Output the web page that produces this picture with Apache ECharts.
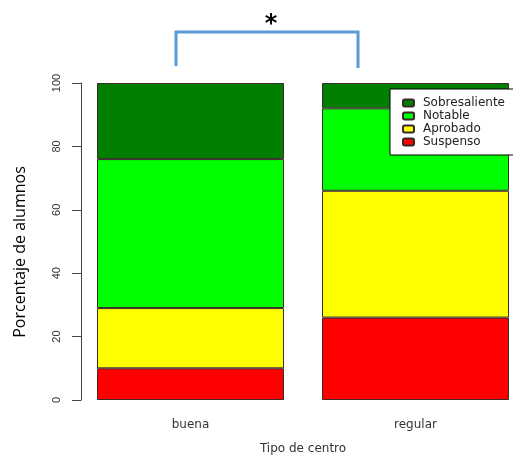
<!DOCTYPE html>
<html>
<head>
<meta charset="utf-8">
<script src="https://cdn.jsdelivr.net/npm/echarts@6/dist/echarts.min.js"></script>
<style>html,body{margin:0;padding:0;background:#fff}#c{width:513px;height:455px}</style>
</head>
<body>
<div id="c"></div>
<script>
var categories = ['buena', 'regular'];
var suspenso = [10, 26];
var aprobado = [19, 40];
var notable = [47, 26];
var sobresaliente = [24, 8];
var yTicks = [0, 20, 40, 60, 80, 100];

var chart = echarts.init(document.getElementById('c'));
var border = {borderColor: '#3a2a2a', borderWidth: 1};
function s(name, data, color) {
  return {name: name, type: 'bar', stack: 'total', data: data, barWidth: 187,
    itemStyle: Object.assign({color: color}, border), emphasis: {disabled: true}};
}
var lab = 'DejaVu Sans, Liberation Sans, sans-serif';
chart.setOption({
  animation: false,
  textStyle: {fontFamily: lab},
  grid: {left: 78, top: 83, bottom: 55, width: 450, outerBoundsMode: 'none', containLabel: false},
  legend: {
    orient: 'vertical', left: 390, top: 89,
    data: ['Sobresaliente', 'Notable', 'Aprobado', 'Suspenso'],
    backgroundColor: '#fff', borderColor: '#000', borderWidth: 1,
    padding: [8, 40, 7, 12], itemWidth: 11, itemHeight: 7, itemGap: 1,
    textStyle: {fontSize: 12, color: '#222', fontFamily: lab, padding: [0, 0, 0, 4], lineHeight: 12},
    selectedMode: false
  },
  xAxis: {
    type: 'category', data: categories,
    axisLine: {show: false}, axisTick: {show: false},
    axisLabel: {fontSize: 12, color: '#333', margin: 19, fontFamily: lab},
    name: 'Tipo de centro', nameLocation: 'middle', nameGap: 43,
    nameTextStyle: {fontSize: 12, color: '#333', fontFamily: lab}
  },
  yAxis: {
    type: 'value', min: 0, max: 100, interval: 20, offset: -3,
    splitLine: {show: false},
    axisLine: {show: true, lineStyle: {color: '#444'}},
    axisTick: {show: true, length: 9, lineStyle: {color: '#444'}},
    axisLabel: {rotate: 90, fontSize: 11, color: '#333', margin: 19,
      fontFamily: 'Liberation Sans, Arial, sans-serif',
      formatter: function (v) { return yTicks.indexOf(v) >= 0 ? String(v) : ''; }}
  },
  series: [
    s('Suspenso', suspenso, '#ff0000'),
    s('Aprobado', aprobado, '#ffff00'),
    s('Notable', notable, '#00ff00'),
    s('Sobresaliente', sobresaliente, '#007f00')
  ],
  graphic: [
    {type: 'text', x: 20, y: 252, rotation: Math.PI / 2,
      style: {text: 'Porcentaje de alumnos', fill: '#000', align: 'center', verticalAlign: 'middle',
        font: '16px "Open Sans", "Liberation Sans", sans-serif'}},
    {type: 'polyline', shape: {points: [[176, 66], [176, 32], [358, 32], [358, 68]]},
      style: {stroke: '#5b9bd5', lineWidth: 3, fill: null}},
    {type: 'text', x: 271, y: 25, style: {text: '*', fill: '#000',
      align: 'center', verticalAlign: 'middle', font: 'bold 24px "DejaVu Sans", sans-serif'}}
  ]
});
</script>
</body>
</html>
